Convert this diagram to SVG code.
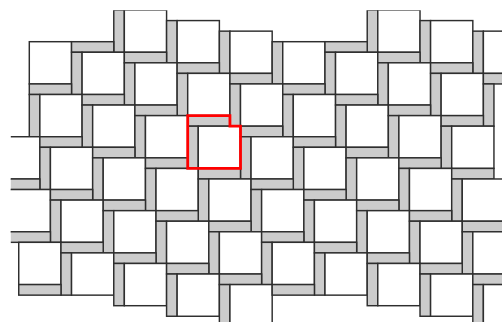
<svg xmlns="http://www.w3.org/2000/svg" xmlns:xlink="http://www.w3.org/1999/xlink" width="502" height="322" viewBox="0 0 502 322">
<style>
.w{fill:#ffffff;stroke:#2e2e2e;stroke-width:1.45}
.g{fill:#cccccc;stroke:#2e2e2e;stroke-width:1.45}
.hl{fill:none;stroke:#ff0000;stroke-width:2.8;stroke-linejoin:miter}
</style>
<defs>
<clipPath id="clip"><rect x="10.8" y="10.3" width="491.2" height="311.7"/></clipPath>
<rect id="w" class="w" x="0" y="0" width="42.24" height="42.24"/>
<rect id="h" class="g" x="-10.56" y="-10.56" width="42.24" height="10.56"/>
<rect id="v" class="g" x="-10.56" y="0" width="10.56" height="42.24"/>
<g id="t"><use href="#h"/><use href="#v"/><use href="#w"/></g>
</defs>
<rect x="0" y="0" width="502" height="322" fill="#ffffff"/>
<g id="tiling" clip-path="url(#clip)">
<g id="row-n-2">
<use href="#v" x="377.78" y="10.02"/><use href="#w" x="377.78" y="10.02"/>
<use href="#v" x="430.58" y="20.58"/><use href="#w" x="430.58" y="20.58"/>
<use href="#v" x="483.38" y="31.14"/><use href="#w" x="483.38" y="31.14"/>
</g>
<g id="row-n-1">
<use href="#v" x="124.34" y="10.02"/><use href="#w" x="124.34" y="10.02"/>
<use href="#v" x="177.14" y="20.58"/><use href="#w" x="177.14" y="20.58"/>
<use href="#v" x="229.94" y="31.14"/><use href="#w" x="229.94" y="31.14"/>
<use href="#v" x="282.74" y="41.70"/><use href="#w" x="282.74" y="41.70"/>
<use href="#t" x="335.54" y="52.26"/>
<use href="#t" x="388.34" y="62.82"/>
<use href="#t" x="441.14" y="73.38"/>
<use href="#h" x="493.94" y="83.94"/><use href="#v" x="493.94" y="83.94"/>
</g>
<g id="row-n0">
<use href="#w" x="29.3" y="41.7"/>
<use href="#t" x="82.1" y="52.26"/>
<use href="#t" x="134.9" y="62.82"/>
<use href="#t" x="187.7" y="73.38"/>
<use href="#t" x="240.5" y="83.94"/>
<use href="#t" x="293.3" y="94.5"/>
<use href="#t" x="346.1" y="105.06"/>
<use href="#t" x="398.9" y="115.62"/>
<use href="#t" x="451.7" y="126.18"/>
</g>
<g id="row-n1">
<use href="#t" x="39.86" y="94.5"/>
<use href="#t" x="92.66" y="105.06"/>
<use href="#t" x="145.46" y="115.62"/>
<use href="#t" x="198.26" y="126.18"/>
<use href="#t" x="251.06" y="136.74"/>
<use href="#t" x="303.86" y="147.3"/>
<use href="#t" x="356.66" y="157.86"/>
<use href="#t" x="409.46" y="168.42"/>
<use href="#t" x="462.26" y="178.98"/>
</g>
<g id="row-n2">
<use href="#w" x="-2.38" y="136.74"/>
<use href="#t" x="50.42" y="147.3"/>
<use href="#t" x="103.22" y="157.86"/>
<use href="#t" x="156.02" y="168.42"/>
<use href="#t" x="208.82" y="178.98"/>
<use href="#t" x="261.62" y="189.54"/>
<use href="#t" x="314.42" y="200.1"/>
<use href="#t" x="367.22" y="210.66"/>
<use href="#t" x="420.02" y="221.22"/>
<use href="#t" x="472.82" y="231.78"/>
</g>
<g id="row-n3">
<use href="#h" x="8.18" y="189.54"/><use href="#w" x="8.18" y="189.54"/>
<use href="#t" x="60.98" y="200.1"/>
<use href="#t" x="113.78" y="210.66"/>
<use href="#t" x="166.58" y="221.22"/>
<use href="#t" x="219.38" y="231.78"/>
<use href="#t" x="272.18" y="242.34"/>
<use href="#t" x="324.98" y="252.9"/>
<use href="#t" x="377.78" y="263.46"/>
<use href="#t" x="430.58" y="274.02"/>
<use href="#t" x="483.38" y="284.58"/>
</g>
<g id="row-n4">
<use href="#h" x="18.74" y="242.34"/><use href="#w" x="18.74" y="242.34"/>
<use href="#t" x="71.54" y="252.9"/>
<use href="#t" x="124.34" y="263.46"/>
<use href="#t" x="177.14" y="274.02"/>
<use href="#t" x="229.94" y="284.58"/>
<use href="#h" x="282.74" y="295.14"/>
</g>
<g id="row-n5">
<use href="#h" x="29.3" y="295.14"/>
</g>
</g>
<g id="highlight">
<polygon class="hl" points="187.7,115.62 229.94,115.62 229.94,126.18 240.5,126.18 240.5,168.42 187.7,168.42"/>
</g>
</svg>
